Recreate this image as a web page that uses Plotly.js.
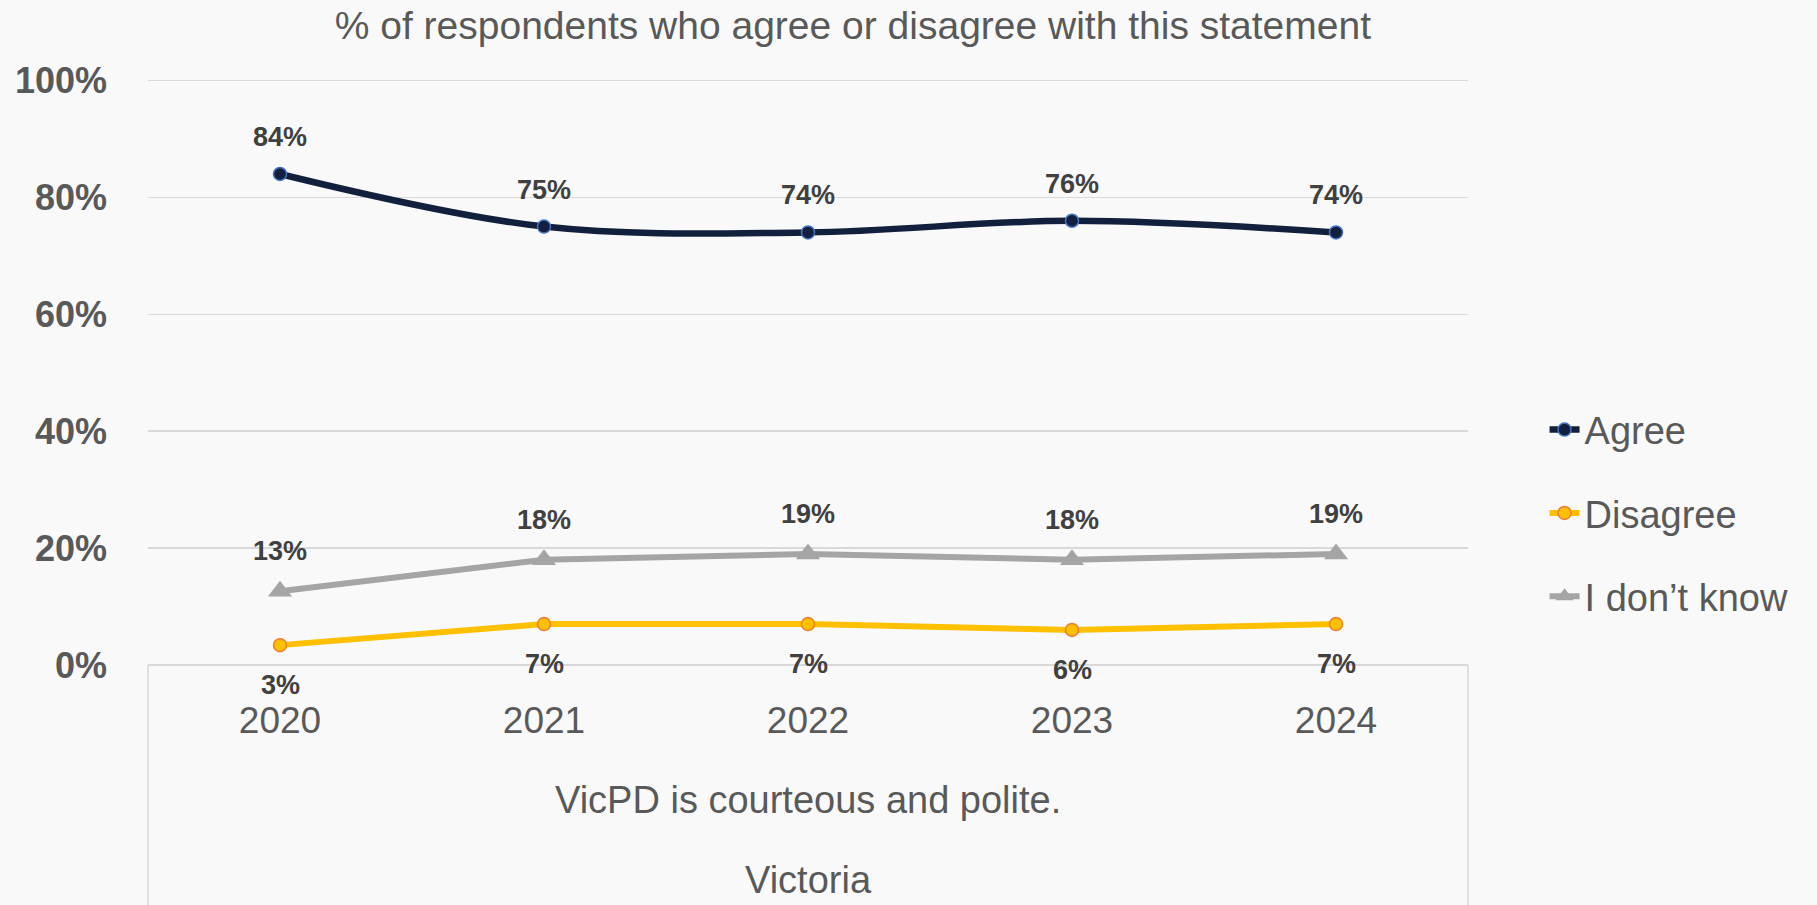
<!DOCTYPE html>
<html>
<head>
<meta charset="utf-8">
<script src="https://cdn.plot.ly/plotly-3.0.1.min.js"></script>
<style>
  html, body { margin: 0; padding: 0; background: #f9f9f9; }
  #chart { width: 1817px; height: 905px; }
</style>
</head>
<body>
<div id="chart"></div>
<script>
// ---- data ----
const years = ['2020', '2021', '2022', '2023', '2024'];
const agree = [84, 75, 74, 76, 74];
const disagree = [3.4, 7, 7, 6, 7];
const dontKnow = [12.6, 18, 19, 18, 19];
const yTicks = [0, 20, 40, 60, 80, 100];
const yTickLabels = ['0%', '20%', '40%', '60%', '80%', '100%'];
const titleText = '% of respondents who agree or disagree with this statement';
const groupLabel1 = 'VicPD is courteous and polite.';
const groupLabel2 = 'Victoria';

const REG = '"Liberation Sans", Arial, sans-serif';

const traces = [
  {
    x: years, y: agree, name: 'Agree', type: 'scatter', mode: 'lines+markers',
    legendgroup: 'a',
    line: { color: '#13203d', width: 6.5, shape: 'spline', smoothing: 1 },
    marker: { symbol: 'circle', size: 13, color: '#13203d', line: { color: '#4472c4', width: 1.5 } }
  },
  {
    x: years, y: disagree, name: 'Disagree', type: 'scatter', mode: 'lines+markers',
    legendgroup: 'b',
    line: { color: '#ffc000', width: 6 },
    marker: { symbol: 'circle', size: 13, color: '#ffc000', line: { color: '#ed7d31', width: 1.5 } }
  },
  {
    x: years, y: dontKnow, name: 'I don’t know', type: 'scatter', mode: 'lines+markers',
    legendgroup: 'c',
    line: { color: '#a5a5a5', width: 6 },
    marker: { symbol: 'triangle-up', size: 21, color: '#a5a5a5', line: { width: 0 } }
  }
];

const annotations = [];
function addLabels(vals, shift) {
  vals.forEach((v, i) => {
    annotations.push({
      x: i, y: v, xref: 'x', yref: 'y',
      text: Math.round(v) + '%', showarrow: false,
      yshift: shift,
      font: { family: REG, size: 27, color: '#404040', weight: 'bold' }
    });
  });
}
addLabels(agree, 37);
addLabels(dontKnow, 40);
addLabels(disagree, -40);

annotations.push({
  x: 0.5, y: -0.231, xref: 'paper', yref: 'paper', text: groupLabel1,
  showarrow: false, xanchor: 'center', yanchor: 'middle',
  font: { family: REG, size: 38, color: '#595959' }
});
annotations.push({
  x: 0.5, y: -0.3675, xref: 'paper', yref: 'paper', text: groupLabel2,
  showarrow: false, xanchor: 'center', yanchor: 'middle',
  font: { family: REG, size: 38, color: '#595959' }
});

const layout = {
  width: 1817, height: 905,
  paper_bgcolor: '#f9f9f9', plot_bgcolor: '#f9f9f9',
  margin: { l: 148, r: 349, t: 79, b: 240, pad: 0 },
  title: {
    text: titleText, xref: 'paper', x: 0.534, xanchor: 'center',
    yref: 'container', y: 0.972, yanchor: 'middle',
    font: { family: REG, size: 39, color: '#595959' }
  },
  xaxis: {
    type: 'category', showgrid: false, zeroline: false, showline: false,
    ticks: '', ticklabelstandoff: 30,
    tickfont: { family: REG, size: 37, color: '#595959' },
    range: [-0.5, 4.5]
  },
  yaxis: {
    range: [0, 100.25], tickvals: yTicks, ticktext: yTickLabels,
    showgrid: true, gridcolor: '#d9d9d9', gridwidth: 1.5,
    zeroline: true, zerolinecolor: '#d9d9d9', zerolinewidth: 1.5,
    showline: false, ticks: '', ticklabelstandoff: 40,
    tickfont: { family: REG, size: 36, color: '#595959', weight: 'bold' }
  },
  showlegend: true,
  legend: {
    x: 1.058, xanchor: 'left', y: 0.455, yanchor: 'top',
    bgcolor: 'rgba(0,0,0,0)', tracegroupgap: 31,
    font: { family: REG, size: 38, color: '#595959' }
  },
  shapes: [
    { type: 'line', xref: 'paper', yref: 'paper', x0: 0, x1: 0, y0: 0, y1: -0.42,
      line: { color: '#d9d9d9', width: 1.5 } },
    { type: 'line', xref: 'paper', yref: 'paper', x0: 1, x1: 1, y0: 0, y1: -0.42,
      line: { color: '#d9d9d9', width: 1.5 } }
  ],
  annotations: annotations
};

Plotly.newPlot('chart', traces, layout, { displayModeBar: false, staticPlot: true });
</script>
</body>
</html>
